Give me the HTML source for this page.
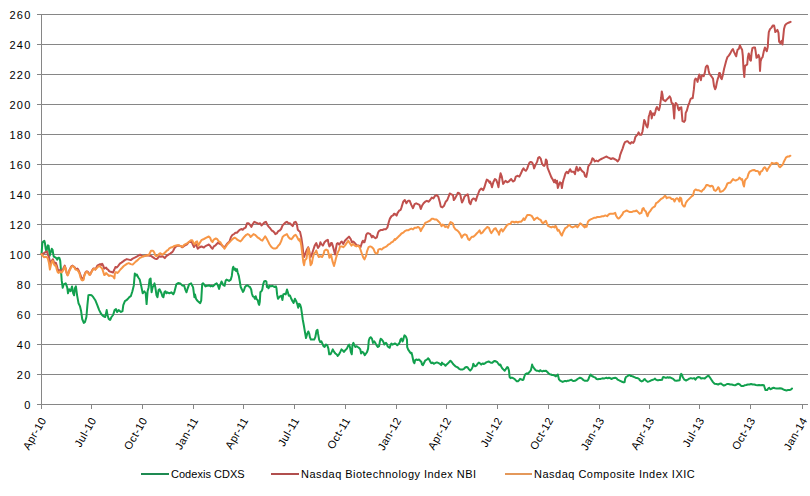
<!DOCTYPE html>
<html><head><meta charset="utf-8"><style>
html,body{margin:0;padding:0;background:#fff;}
body{width:810px;height:496px;position:relative;overflow:hidden;font-family:"Liberation Sans",sans-serif;color:#000;}
svg{position:absolute;left:0;top:0;}
.yl{position:absolute;right:778.3px;width:40px;text-align:right;font-size:11px;line-height:14px;letter-spacing:1.3px;}
.xl{position:absolute;top:414.5px;font-size:11px;line-height:12px;letter-spacing:0.4px;white-space:nowrap;transform-origin:100% 0;transform:translate(-100%,0) rotate(-60deg);}
.lg{position:absolute;top:467px;font-size:11px;line-height:14px;white-space:nowrap;letter-spacing:0.3px;}
.lgl{position:absolute;top:473px;height:2px;width:27px;}
</style></head><body>
<svg width="810" height="496" viewBox="0 0 810 496">
<g stroke="#868686" stroke-width="1" shape-rendering="crispEdges"><line x1="37" y1="14.5" x2="808" y2="14.5"/><line x1="37" y1="44.5" x2="808" y2="44.5"/><line x1="37" y1="74.5" x2="808" y2="74.5"/><line x1="37" y1="104.5" x2="808" y2="104.5"/><line x1="37" y1="134.5" x2="808" y2="134.5"/><line x1="37" y1="164.5" x2="808" y2="164.5"/><line x1="37" y1="194.5" x2="808" y2="194.5"/><line x1="37" y1="224.5" x2="808" y2="224.5"/><line x1="37" y1="254.5" x2="808" y2="254.5"/><line x1="37" y1="284.5" x2="808" y2="284.5"/><line x1="37" y1="314.5" x2="808" y2="314.5"/><line x1="37" y1="344.5" x2="808" y2="344.5"/><line x1="37" y1="374.5" x2="808" y2="374.5"/><line x1="37" y1="404.5" x2="808" y2="404.5"/>
<line x1="37" y1="404.5" x2="808" y2="404.5"/>
<line x1="41.5" y1="14" x2="41.5" y2="405"/>
<line x1="41.5" y1="404" x2="41.5" y2="408.5"/><line x1="91.5" y1="404" x2="91.5" y2="408.5"/><line x1="142.5" y1="404" x2="142.5" y2="408.5"/><line x1="193.5" y1="404" x2="193.5" y2="408.5"/><line x1="243.5" y1="404" x2="243.5" y2="408.5"/><line x1="294.5" y1="404" x2="294.5" y2="408.5"/><line x1="345.5" y1="404" x2="345.5" y2="408.5"/><line x1="396.5" y1="404" x2="396.5" y2="408.5"/><line x1="446.5" y1="404" x2="446.5" y2="408.5"/><line x1="497.5" y1="404" x2="497.5" y2="408.5"/><line x1="548.5" y1="404" x2="548.5" y2="408.5"/><line x1="599.5" y1="404" x2="599.5" y2="408.5"/><line x1="649.5" y1="404" x2="649.5" y2="408.5"/><line x1="699.5" y1="404" x2="699.5" y2="408.5"/><line x1="750.5" y1="404" x2="750.5" y2="408.5"/><line x1="802.5" y1="404" x2="802.5" y2="408.5"/></g>
<g fill="none" stroke-width="2" stroke-linejoin="round" stroke-linecap="round">
<polyline stroke="#12a04e" points="41.5,254.3 42.0,247.9 42.4,242.9 43.4,241.4 44.4,240.9 44.9,242.9 45.7,248.8 46.4,251.8 47.4,246.9 47.9,245.4 48.6,245.9 49.1,249.8 49.7,255.8 50.3,253.3 51.0,251.8 51.8,248.8 52.6,249.8 53.3,254.3 53.8,256.7 54.8,257.2 55.8,257.7 56.8,258.7 57.3,259.7 57.8,258.2 58.7,257.7 59.5,258.2 60.2,260.7 60.7,266.6 61.2,273.5 61.7,280.4 62.7,287.8 63.7,284.4 65.7,283.4 67.2,287.4 68.0,293.3 69.2,289.3 70.6,291.3 72.0,286.4 73.2,293.3 74.1,295.3 74.9,288.3 75.9,286.4 77.1,295.3 78.5,303.2 79.9,306.1 81.1,311.1 82.2,319.0 83.8,322.9 85.0,321.9 86.4,317.0 87.4,305.1 88.4,295.3 89.8,294.9 91.7,295.3 93.3,297.2 95.3,300.2 97.3,305.1 99.2,310.1 101.2,314.0 103.2,316.0 105.2,317.0 106.7,310.1 107.5,315.0 108.7,319.0 110.1,320.0 111.5,317.0 113.1,315.0 114.6,310.1 116.0,309.1 117.0,312.0 118.6,310.1 121.0,312.0 122.5,311.1 123.3,305.1 124.9,301.2 126.5,300.2 127.9,298.8 129.3,297.2 130.8,296.2 132.4,291.3 133.8,285.4 134.8,273.5 135.8,275.5 136.8,274.5 138.3,277.5 139.7,279.5 141.1,285.4 142.7,293.3 144.3,291.3 145.7,293.3 146.6,304.1 147.6,291.3 148.6,287.4 149.6,279.5 150.6,278.5 151.6,292.3 152.6,287.4 153.6,285.4 154.5,283.4 155.5,288.3 156.5,295.3 157.5,297.2 158.5,290.3 159.5,289.3 160.5,291.3 161.5,293.3 162.4,296.2 163.4,297.2 164.4,292.3 165.4,291.3 166.4,293.3 167.4,292.3 169.4,293.3 171.3,292.3 173.3,294.3 174.3,292.3 176.3,284.4 178.2,283.0 180.2,283.4 182.2,285.4 184.2,285.8 185.2,289.3 186.5,292.3 187.7,288.3 189.1,284.4 191.1,283.4 193.1,287.4 194.4,297.2 195.0,294.4 196.0,298.8 197.2,300.6 198.7,301.9 200.2,303.1 201.2,300.6 201.8,290.7 202.2,284.0 203.0,283.3 204.3,284.6 205.5,286.4 206.7,285.8 208.0,285.8 209.2,285.2 210.4,286.4 211.7,285.8 212.9,286.4 214.1,285.2 215.4,284.0 216.6,283.3 217.8,285.2 219.1,288.9 220.3,284.6 221.5,281.5 222.4,283.3 223.4,285.2 224.6,285.8 225.6,280.9 226.5,279.6 227.7,280.2 229.0,280.9 230.8,279.6 231.8,275.9 232.7,268.5 233.3,266.7 234.3,269.8 235.1,268.5 236.0,271.0 237.0,269.1 237.6,272.2 238.8,275.9 239.7,280.9 240.7,287.0 241.9,289.5 242.9,292.0 243.8,290.7 245.0,287.0 246.2,285.8 247.5,285.2 248.7,286.4 249.9,287.0 251.2,289.5 251.8,293.2 252.8,296.3 254.0,296.9 254.9,298.8 255.7,296.3 256.7,299.4 257.7,300.0 258.6,303.7 259.2,304.9 259.8,301.9 260.4,292.0 261.4,291.4 262.3,289.5 263.1,284.6 264.1,281.5 265.4,280.9 266.4,281.5 266.9,287.0 267.6,285.8 268.5,288.3 269.7,285.8 270.9,286.4 272.2,285.8 273.4,286.4 274.6,287.0 275.9,286.4 276.5,288.3 277.1,294.4 278.0,298.8 279.0,297.5 280.2,296.3 281.4,295.7 282.4,300.0 283.3,294.4 284.5,293.8 285.7,294.4 287.0,289.5 287.8,292.0 288.8,295.7 290.0,295.5 291.3,298.8 292.5,301.2 293.6,302.9 294.9,298.8 296.2,301.2 297.4,304.5 298.2,307.8 299.0,303.7 300.1,304.5 301.1,307.8 301.8,312.7 302.7,319.2 303.9,325.8 305.0,332.3 306.0,338.0 307.2,333.9 308.3,331.5 309.3,333.9 309.9,337.2 310.9,339.6 312.5,339.6 314.2,339.6 315.3,337.2 316.5,330.7 317.5,329.8 318.1,333.9 319.1,339.6 320.2,342.1 321.4,341.3 322.4,343.7 323.5,346.2 324.6,347.0 325.9,344.5 327.3,345.4 328.4,348.6 329.2,354.3 330.5,354.3 331.7,351.9 332.8,349.4 334.1,351.9 335.4,353.5 336.6,354.3 337.7,356.0 339.0,354.3 340.3,351.9 341.5,349.4 342.6,350.3 343.9,351.9 345.2,350.3 346.9,348.6 348.0,346.2 349.2,344.5 350.1,347.8 350.8,351.9 351.8,354.3 352.4,345.4 353.4,342.9 354.5,345.4 355.4,347.0 356.7,346.2 357.8,347.0 359.0,347.8 360.3,349.4 361.1,353.5 362.2,351.9 363.5,352.7 364.8,355.2 366.0,353.5 367.1,351.9 368.1,348.6 368.8,340.5 369.7,338.0 370.9,337.2 372.0,338.8 373.0,342.9 374.2,341.3 375.3,342.9 376.6,345.4 377.9,347.0 379.1,346.2 379.9,341.3 380.7,338.8 381.8,339.6 383.1,341.3 384.4,344.5 385.0,343.5 386.0,342.8 386.9,344.1 387.7,346.5 388.7,347.2 389.7,347.8 390.6,344.7 391.4,343.5 392.4,344.7 393.6,344.1 394.9,343.5 396.1,344.1 397.3,345.3 398.6,344.1 399.8,342.2 400.4,339.8 401.3,338.5 402.0,339.8 402.5,341.6 403.3,339.8 403.8,337.3 404.5,335.4 405.4,336.0 406.2,337.3 407.0,339.8 407.2,347.2 408.2,349.6 409.1,350.9 409.9,352.1 410.7,353.3 411.5,352.7 412.2,355.2 412.8,358.3 413.6,362.0 414.4,363.2 415.2,360.1 416.5,359.5 417.7,360.1 419.0,359.5 420.2,360.7 421.4,362.0 422.0,364.4 423.0,365.1 423.9,363.2 425.1,360.7 427.0,359.5 428.2,358.3 429.2,359.5 430.1,361.4 431.3,363.2 432.5,362.6 433.8,363.8 435.0,363.2 436.2,362.6 437.5,362.6 438.7,363.2 439.9,363.8 441.2,365.1 442.0,362.6 443.0,363.8 444.3,364.4 445.5,365.7 446.7,364.4 448.0,363.2 449.2,362.0 450.4,360.7 451.7,362.0 452.9,363.8 454.1,365.1 455.4,366.3 456.6,366.9 457.8,367.5 459.1,368.8 460.3,369.4 461.5,369.4 462.8,369.4 464.0,368.8 465.2,367.5 466.5,366.9 467.7,367.5 469.0,369.4 470.2,370.6 471.4,369.4 472.7,366.9 473.3,363.8 474.1,365.1 475.1,366.3 476.4,365.7 477.6,363.8 478.8,362.6 480.0,363.4 481.2,364.6 482.5,363.4 483.7,364.0 484.9,363.4 486.2,362.4 487.4,361.9 488.6,361.5 489.9,362.2 491.1,362.8 492.3,362.8 493.6,361.5 494.8,360.9 496.0,361.5 497.3,362.2 498.5,364.0 499.5,365.2 500.4,364.6 501.2,366.5 502.2,368.3 503.5,369.6 504.7,370.8 505.9,369.0 507.2,367.1 508.1,367.7 509.0,370.8 509.6,377.0 510.6,378.2 511.9,377.6 513.1,378.2 514.3,378.8 515.6,380.1 516.8,381.3 518.0,381.3 519.3,380.1 520.1,378.8 521.4,379.4 522.6,380.1 523.5,379.4 524.2,377.0 525.1,374.5 525.9,373.9 526.9,373.3 527.9,373.9 528.8,372.7 530.0,371.4 530.9,370.2 531.6,367.1 532.1,364.6 532.8,366.5 533.7,367.7 534.6,369.0 535.6,370.2 536.8,370.8 538.0,370.8 539.3,371.4 540.2,370.2 541.1,370.8 542.3,371.4 543.6,370.8 544.8,371.0 546.0,370.8 547.3,372.0 548.5,373.3 549.8,374.3 551.0,374.5 552.2,375.1 553.5,375.1 554.7,375.7 555.9,376.4 557.2,375.1 557.8,374.5 558.4,377.0 559.0,379.4 560.2,380.7 561.5,381.3 562.7,381.9 564.0,381.3 565.2,380.9 566.4,381.3 567.7,380.7 568.9,380.7 570.1,380.1 571.4,379.7 572.6,380.7 573.8,380.9 575.0,380.8 576.2,380.2 577.5,379.0 578.7,378.3 579.9,377.7 581.2,378.1 582.4,379.0 583.6,380.2 584.9,380.8 586.1,380.8 587.3,380.8 588.3,379.6 589.2,377.1 590.1,375.2 590.8,374.6 591.7,375.9 592.9,376.5 594.1,377.1 595.4,377.7 596.6,379.0 597.8,379.3 599.1,379.0 600.3,379.0 601.5,378.6 602.8,378.3 604.0,378.6 605.2,378.1 606.5,377.7 607.7,378.3 609.0,377.7 610.2,378.1 611.4,379.0 612.7,378.3 613.9,378.1 615.1,377.7 616.4,378.1 617.6,379.6 618.8,380.2 620.1,380.8 621.3,381.4 622.5,382.0 623.8,382.4 624.6,382.0 625.1,379.0 625.9,377.1 626.9,376.5 627.8,375.9 628.7,375.2 629.6,374.9 630.6,375.9 631.8,376.1 633.0,376.5 634.3,377.1 635.5,377.7 636.7,378.1 638.0,378.3 639.2,379.0 639.8,380.2 640.7,380.8 641.7,381.4 642.9,380.8 643.9,379.6 644.8,379.0 645.6,380.2 646.6,381.0 647.8,381.8 649.1,381.4 650.3,380.8 651.5,380.2 652.8,379.8 654.0,379.3 655.0,378.6 655.9,379.6 657.1,380.2 658.3,380.2 659.6,379.9 660.8,379.9 662.0,379.8 662.9,377.3 663.9,377.1 665.1,377.7 666.4,377.7 667.6,377.3 668.8,377.7 670.0,377.3 671.6,378.1 673.2,378.9 674.8,380.5 676.4,380.8 678.0,380.5 679.6,380.2 680.4,375.7 681.2,373.8 682.0,374.9 682.8,377.3 684.4,379.7 686.1,380.5 687.7,379.7 689.3,378.6 690.9,378.1 692.5,378.6 694.1,378.1 695.4,379.7 696.5,378.1 698.1,377.0 699.7,377.3 701.3,378.6 702.9,378.1 704.5,378.6 706.1,377.3 707.7,376.0 708.5,375.7 709.8,377.3 711.4,379.7 713.0,382.1 714.6,383.7 716.5,384.0 718.2,384.5 719.8,383.7 721.0,383.4 722.2,384.5 723.8,385.6 725.4,385.0 727.0,384.0 728.6,384.0 730.2,384.5 731.8,384.5 733.4,385.0 735.0,385.3 736.6,384.5 738.2,383.7 739.8,384.5 741.4,386.1 743.0,386.1 744.6,385.3 746.2,385.0 747.8,384.5 749.5,384.5 751.1,384.0 752.7,384.5 754.3,384.5 755.9,385.0 757.5,385.3 759.1,385.0 760.7,385.3 762.3,385.0 763.9,385.3 764.7,387.7 765.5,390.1 767.1,390.1 768.2,388.5 769.2,387.7 770.3,389.3 771.9,388.5 773.5,387.7 775.1,388.2 776.7,388.5 778.3,388.5 780.0,388.2 781.6,388.5 783.2,389.3 784.8,390.1 786.4,390.4 788.0,390.1 789.6,390.1 791.2,389.3 792.0,388.5"/>
<polyline stroke="#c0504d" points="41.5,254.3 42.9,253.8 44.4,252.8 45.9,251.8 46.9,251.3 47.9,254.8 48.9,256.7 49.9,261.7 50.8,263.7 51.8,260.7 52.8,259.2 53.8,261.7 54.8,263.2 55.8,262.7 56.8,265.6 57.8,269.6 58.7,271.1 59.7,270.1 61.7,270.6 62.7,270.1 63.7,267.6 64.7,265.6 65.7,268.6 66.6,273.0 67.6,275.0 68.6,272.5 69.6,269.6 70.6,267.6 71.6,266.1 72.6,265.6 73.6,266.6 74.5,267.1 75.5,268.6 76.5,269.1 77.5,268.6 78.5,270.1 79.5,272.5 80.5,275.0 81.5,277.5 82.4,279.5 83.4,279.0 84.4,275.0 85.4,272.5 86.4,271.6 87.4,271.6 88.4,272.5 89.4,274.0 90.3,274.5 91.3,272.0 92.3,270.1 93.3,268.6 94.3,268.6 95.3,269.6 96.3,267.6 97.3,265.6 98.2,265.1 99.2,264.6 100.2,264.1 101.2,265.1 102.2,263.7 103.2,265.6 104.2,268.6 105.2,268.1 106.1,267.6 107.1,269.1 108.1,269.6 109.1,271.1 110.0,271.5 111.5,272.0 113.0,272.5 114.4,269.5 115.4,267.0 116.9,267.5 118.4,265.6 119.9,263.6 121.4,262.6 122.8,261.6 124.8,260.1 126.8,259.1 128.8,259.6 130.7,260.1 132.7,258.6 134.7,257.7 136.7,256.7 138.6,255.5 140.1,254.7 141.6,255.7 143.6,256.2 145.6,255.5 147.5,255.2 149.5,255.7 150.5,255.7 152.0,256.7 153.5,257.7 154.9,258.6 156.4,259.1 157.4,258.6 158.4,257.2 159.4,256.2 160.9,256.7 162.3,256.2 163.8,257.2 164.8,258.1 166.3,256.2 167.8,255.2 169.3,254.2 170.7,253.2 172.2,252.2 173.2,250.7 174.2,248.8 175.2,247.3 177.2,245.8 179.1,245.6 181.1,246.3 182.1,247.3 183.1,246.8 185.1,245.3 187.0,244.3 189.0,241.9 190.3,242.0 191.5,241.4 192.8,244.5 194.0,247.0 195.2,245.1 196.5,244.5 197.1,247.0 197.7,248.8 199.0,247.6 200.2,247.0 201.4,246.4 202.7,247.0 203.9,247.6 205.1,246.4 206.4,245.7 207.6,245.1 208.8,244.5 210.1,245.7 211.3,247.6 212.5,248.8 213.8,246.4 215.1,245.7 216.5,244.3 218.0,242.8 219.4,243.5 220.9,244.3 222.3,245.7 223.8,247.2 225.2,246.5 226.7,244.3 228.1,242.8 229.6,241.4 231.0,237.0 232.5,234.8 234.0,234.1 235.4,232.7 236.9,232.7 238.3,231.2 239.8,229.8 241.2,229.0 242.7,229.8 244.1,228.3 245.6,227.6 247.0,223.2 248.5,223.2 249.9,224.7 251.4,226.9 252.8,224.0 254.3,221.8 255.7,222.5 257.2,223.2 258.6,224.0 260.1,223.2 261.5,225.4 263.0,224.0 264.4,222.5 265.9,221.8 267.3,224.7 268.8,226.9 270.2,228.3 271.7,230.5 273.1,231.2 274.6,232.7 275.3,234.1 276.8,233.4 278.2,231.2 279.7,230.5 281.1,229.0 282.6,225.4 284.0,224.0 285.5,222.5 286.9,221.8 288.4,223.2 289.8,223.2 291.3,224.7 292.7,226.1 294.2,222.5 295.6,221.8 296.8,224.0 297.8,229.8 299.3,231.2 300.0,231.7 301.3,237.4 302.5,245.6 303.3,253.7 304.1,257.0 304.9,254.5 306.5,250.5 308.2,247.2 309.0,249.6 309.8,254.5 310.6,257.0 311.8,254.5 313.1,250.5 314.7,245.6 316.3,243.1 317.2,245.6 318.0,248.0 319.6,245.6 320.4,242.3 321.2,243.9 322.9,245.6 324.5,242.3 326.1,240.7 327.8,239.8 328.6,243.9 329.4,246.4 330.2,245.6 331.0,243.1 331.9,243.1 332.7,245.6 334.0,250.5 335.1,254.5 335.9,248.8 336.8,243.9 337.9,243.1 339.2,244.7 340.8,242.3 341.7,241.5 343.3,243.9 344.9,240.7 346.6,239.0 348.2,237.4 349.0,236.6 350.7,239.0 352.0,242.3 353.1,241.5 354.2,242.3 355.6,243.9 357.2,245.6 358.8,245.6 360.5,247.2 361.3,244.7 362.1,242.3 362.9,240.7 363.7,242.3 364.5,242.3 365.4,239.0 366.2,234.9 367.3,233.3 368.6,233.3 370.3,234.1 371.9,237.4 372.7,235.8 374.3,237.4 375.5,238.2 376.8,237.4 378.1,232.5 379.2,230.8 380.9,230.0 382.5,230.0 384.2,229.2 385.8,229.2 386.6,228.4 387.4,227.6 388.2,224.3 389.1,221.0 389.9,218.6 391.5,216.1 393.1,215.3 394.0,213.7 394.8,214.5 395.0,213.9 396.6,215.6 397.5,213.1 399.1,210.7 400.7,209.8 401.5,207.4 403.2,201.7 404.8,200.0 406.4,203.3 408.1,200.8 409.7,200.8 411.3,204.9 413.0,208.2 414.6,204.1 416.2,203.3 417.9,204.1 419.5,204.9 420.8,209.0 422.0,205.8 423.6,203.3 425.2,201.7 426.9,200.8 428.5,201.7 430.1,200.0 431.8,197.6 433.4,198.4 435.0,195.9 436.7,195.1 438.3,196.8 439.9,202.5 440.8,206.6 442.4,207.4 444.0,205.8 445.7,201.7 447.3,200.0 448.9,195.9 449.7,193.5 451.4,194.3 453.0,195.1 453.8,200.0 455.1,198.4 456.8,195.1 457.9,192.7 459.5,193.5 460.4,195.1 461.2,199.2 462.0,202.5 463.3,200.0 464.4,196.8 466.1,195.1 467.7,194.3 468.5,197.6 469.3,202.5 470.5,204.1 471.8,200.0 473.4,198.4 475.1,199.2 475.9,200.8 477.0,196.8 478.3,193.5 479.6,190.2 481.3,188.6 483.2,190.2 484.5,187.0 485.7,182.9 486.8,179.6 488.1,180.4 489.8,182.9 490.0,181.5 491.3,184.7 492.0,187.2 493.3,182.3 494.9,179.0 496.2,179.8 497.4,183.1 498.5,187.2 499.5,179.0 500.6,173.3 501.8,176.6 503.1,183.9 504.4,182.3 505.5,180.7 507.2,182.3 508.8,181.5 510.4,179.8 511.2,179.0 512.9,181.5 514.5,180.7 515.8,176.6 517.8,175.8 519.4,176.6 521.0,173.3 522.4,170.0 523.5,168.4 524.6,170.0 525.9,170.8 527.3,168.4 528.4,165.1 529.5,162.7 530.8,161.9 532.2,162.7 533.3,165.1 534.1,168.4 535.4,165.1 537.1,161.9 538.2,157.8 539.3,157.0 540.7,158.6 542.0,163.5 543.1,165.1 544.2,165.9 545.2,164.3 545.9,159.4 546.9,161.0 547.5,167.6 548.8,170.8 550.1,174.1 551.4,177.4 552.9,179.8 554.1,182.3 555.0,179.8 556.2,183.1 557.0,180.7 557.8,188.0 558.6,185.6 559.9,182.3 561.1,183.1 561.9,188.0 562.7,183.1 563.5,179.8 564.3,177.4 565.5,173.3 566.8,171.7 568.1,173.3 569.2,170.8 570.1,169.2 571.4,171.7 572.5,171.7 573.7,171.7 575.0,174.1 575.8,169.2 576.6,166.8 577.9,170.8 579.1,170.0 579.9,167.6 581.2,170.0 582.8,171.7 584.0,172.5 585.0,176.1 586.3,177.0 587.5,171.2 588.3,166.3 589.6,164.7 591.2,162.3 592.4,158.2 593.5,159.0 594.8,161.4 596.4,160.6 598.1,161.4 599.7,159.8 601.3,159.0 603.0,158.2 604.6,157.4 606.2,156.5 607.9,157.4 609.5,158.2 611.1,159.0 612.8,158.2 614.4,159.0 616.0,159.8 617.7,161.4 619.3,159.0 620.1,155.2 621.3,151.9 622.6,148.6 623.9,144.5 625.0,142.1 626.7,141.3 627.8,141.3 629.1,142.9 630.4,143.7 631.6,142.1 633.2,142.9 634.3,141.3 635.3,137.2 636.5,135.6 637.6,134.7 638.6,132.3 639.7,134.7 641.4,134.7 642.5,131.5 643.5,124.9 644.2,120.0 645.1,121.7 646.3,125.8 647.4,127.4 648.1,124.1 648.7,116.8 649.5,114.3 650.4,111.0 651.2,112.7 651.7,118.4 652.8,113.5 653.6,113.5 654.4,115.1 655.3,111.9 656.1,108.6 656.9,107.0 657.7,108.6 658.9,110.2 659.8,107.0 660.5,102.1 661.1,98.0 661.8,91.4 662.5,94.7 663.1,99.6 664.2,100.4 665.4,101.2 666.7,99.6 668.3,98.0 669.6,96.3 670.6,98.0 671.6,102.9 672.9,103.7 673.6,111.0 674.2,118.4 674.9,106.1 675.7,102.9 676.5,103.7 677.5,105.3 678.1,108.6 679.0,110.2 679.8,107.8 680.0,108.8 681.3,107.2 682.0,115.4 682.5,121.1 684.1,121.9 685.2,120.3 685.7,112.9 686.9,110.5 688.2,105.6 689.5,102.3 690.6,99.0 691.8,98.2 692.7,98.2 693.9,89.2 694.7,80.2 695.5,78.6 696.7,79.4 697.6,81.9 698.3,77.8 699.3,74.5 699.9,77.0 700.9,80.2 701.6,76.1 702.5,75.3 703.7,76.1 704.8,72.9 705.8,67.2 707.0,65.5 707.8,66.3 708.6,70.4 709.4,73.7 710.7,75.3 711.9,77.0 713.0,78.6 714.0,85.9 715.1,89.2 715.9,87.6 716.8,82.7 717.6,79.4 718.4,77.0 719.2,72.9 720.0,73.2 720.7,77.6 721.8,79.1 722.9,74.7 724.1,68.8 725.1,65.1 726.2,60.7 727.4,57.1 728.8,55.6 730.3,53.4 731.8,50.4 732.9,49.0 734.0,51.9 735.4,54.9 736.2,56.3 736.9,52.6 737.6,49.7 738.8,49.0 739.9,45.3 740.9,47.5 742.1,49.7 742.8,55.6 743.5,68.8 744.3,76.9 745.0,65.9 746.2,65.1 747.2,64.4 747.9,57.1 748.7,53.4 749.4,55.6 750.1,60.0 750.9,60.7 751.6,52.6 752.4,48.2 753.5,47.5 755.0,47.5 755.6,51.2 756.5,57.8 757.5,57.1 758.5,54.9 759.4,57.1 760.0,71.0 760.6,61.5 761.5,58.5 762.6,57.1 763.8,51.2 764.9,47.5 765.9,49.7 766.8,51.2 767.8,46.8 768.2,39.4 768.8,32.1 770.0,29.1 771.5,27.6 772.9,25.4 774.1,25.4 774.7,28.4 775.3,32.1 776.2,31.3 777.4,29.9 778.5,32.8 779.1,41.6 780.3,43.1 781.5,40.9 782.5,44.6 782.9,40.1 784.0,29.1 785.0,25.4 786.2,24.0 787.6,23.2 789.1,22.5 790.6,21.8"/>
<polyline stroke="#f79646" points="41.5,254.3 42.9,255.8 43.9,257.2 45.9,256.7 46.9,257.2 47.9,258.7 48.9,262.7 49.9,269.6 50.8,265.6 51.8,261.7 52.8,260.7 53.8,263.7 54.8,265.6 55.8,265.6 56.8,269.6 57.8,272.5 58.7,273.0 59.7,271.6 60.7,272.0 61.7,272.5 63.7,269.6 64.7,266.6 65.7,268.6 66.6,272.5 67.6,275.5 68.6,273.5 69.6,270.1 70.6,268.6 71.6,266.6 72.6,266.1 73.6,266.6 74.5,267.6 75.5,269.6 77.5,270.1 78.5,271.6 79.5,273.5 80.5,277.5 81.5,280.0 82.4,280.4 83.4,280.0 84.4,275.5 85.4,273.5 86.4,271.6 87.4,272.0 88.4,273.5 89.4,275.0 90.3,274.0 91.3,272.5 92.3,270.6 93.3,269.1 94.3,268.6 95.3,269.6 96.3,268.6 97.3,267.6 98.2,266.6 99.2,266.1 100.2,266.6 101.2,267.6 102.2,268.6 103.2,271.6 104.2,275.0 105.2,274.5 106.1,273.0 107.1,274.0 108.1,275.0 109.1,276.0 110.0,275.4 111.5,275.9 113.0,276.4 114.4,278.4 114.9,273.5 115.9,272.0 117.4,273.0 118.9,271.5 120.4,269.5 121.9,268.0 123.8,266.0 125.8,264.6 127.3,263.6 128.8,263.1 130.7,264.1 132.7,264.6 134.2,263.1 135.7,261.6 137.7,260.1 139.6,258.1 141.6,257.2 143.6,256.2 145.6,255.7 147.5,255.2 149.0,254.7 150.0,252.7 151.0,250.7 152.5,250.7 153.5,251.2 154.4,252.7 155.4,255.7 156.4,256.2 157.4,255.7 158.4,254.7 159.4,253.7 160.4,253.2 161.4,254.2 162.3,254.7 163.8,253.7 165.3,252.2 166.8,250.7 168.3,249.8 169.3,248.3 170.7,247.6 172.2,247.3 173.7,246.3 175.2,245.8 177.2,245.3 179.1,245.3 181.1,246.3 182.6,246.8 184.1,244.8 186.0,243.8 188.0,242.8 190.9,240.2 192.2,240.2 193.4,242.7 194.6,244.5 195.9,242.0 197.1,241.4 198.3,245.7 199.6,243.3 201.4,240.2 203.9,239.0 206.4,237.7 208.8,236.5 210.1,237.7 211.3,240.8 212.5,242.0 213.8,239.6 215.8,238.5 217.3,239.2 218.7,241.4 220.2,242.1 221.6,244.3 223.1,246.5 224.5,248.6 226.0,246.5 227.4,244.3 228.9,242.8 230.3,241.4 231.8,239.9 233.2,238.5 234.7,237.7 236.1,238.5 237.6,239.9 239.0,240.6 240.5,241.4 241.9,239.9 243.4,237.7 244.8,236.3 246.3,234.8 247.7,234.1 249.2,234.8 250.6,237.0 252.1,235.6 253.5,234.1 255.0,234.8 256.5,236.3 257.9,237.7 259.4,238.5 260.8,239.9 262.3,240.6 263.7,238.5 265.2,236.3 266.6,238.5 268.1,241.4 269.5,244.3 271.0,246.5 272.4,247.9 273.9,248.6 275.3,248.6 276.8,247.9 278.2,245.7 279.7,244.3 281.1,241.4 282.6,237.0 284.0,235.6 285.5,234.8 286.9,234.1 288.4,237.0 289.8,238.5 291.3,239.2 292.7,237.7 294.2,235.6 295.6,234.8 297.1,237.0 298.5,239.9 300.0,241.4 300.0,239.0 301.3,245.6 302.5,255.4 303.3,261.9 304.1,265.2 304.9,260.3 306.5,258.6 307.4,252.1 308.2,248.0 309.0,250.5 309.8,258.6 310.6,265.2 311.8,263.5 312.7,258.6 313.9,253.7 315.5,252.1 316.3,250.5 317.6,254.5 318.8,257.0 320.4,256.2 322.1,257.0 323.7,253.7 324.5,250.5 326.1,249.6 327.8,250.5 328.6,253.7 329.4,257.8 330.2,256.2 331.0,254.5 331.9,258.6 332.7,261.9 334.0,266.0 335.1,261.9 335.9,258.6 336.8,255.4 337.6,252.9 339.2,249.6 340.0,246.4 341.7,246.4 343.3,247.2 344.9,245.6 346.6,243.1 348.2,240.7 349.8,243.1 351.5,245.6 353.1,243.9 354.7,245.6 356.4,246.4 358.0,245.6 359.6,247.2 360.8,250.5 362.1,254.5 363.4,257.8 364.5,259.4 366.2,255.4 367.0,251.3 368.6,247.2 370.3,246.4 371.9,247.2 373.5,248.8 374.8,252.1 376.0,253.7 377.6,252.9 378.4,249.6 380.1,248.8 381.7,249.6 383.3,248.0 385.0,247.2 386.6,246.4 388.2,244.7 389.9,243.9 391.5,242.3 393.1,241.5 394.8,239.0 395.0,240.1 396.6,238.4 398.3,236.8 399.9,235.2 401.5,233.5 403.2,232.7 404.8,231.1 406.4,230.3 408.1,230.3 409.7,229.4 411.3,228.6 413.0,229.4 414.6,227.8 416.2,227.8 417.9,227.0 419.5,227.8 420.8,231.1 422.0,228.6 423.6,226.2 425.2,222.9 426.9,222.1 428.5,221.3 430.1,220.5 431.8,218.8 433.4,218.8 435.0,219.6 436.7,219.6 438.3,221.3 439.9,222.9 441.6,226.2 442.7,224.5 444.0,225.4 445.3,227.0 446.5,226.2 448.1,227.8 449.2,224.5 450.6,222.1 452.2,222.9 453.0,223.7 453.8,227.0 455.5,229.4 457.1,230.3 458.7,231.9 460.4,234.3 461.7,237.6 463.3,235.2 464.9,234.3 466.6,235.2 468.2,239.2 469.3,240.1 470.5,238.4 471.8,236.8 473.4,236.8 475.1,235.2 476.7,233.5 478.3,231.9 479.6,230.3 480.8,233.5 482.4,232.7 484.1,230.3 485.7,228.6 487.3,227.0 489.0,227.8 490.0,230.7 491.3,233.1 492.5,231.5 494.1,229.0 495.7,228.2 496.9,230.7 498.2,232.3 499.0,234.7 500.1,230.7 501.4,229.0 502.7,231.5 503.9,229.8 505.5,227.4 507.2,224.9 508.8,224.1 510.4,224.1 511.6,221.7 512.9,221.7 514.5,222.5 516.1,221.7 517.8,222.5 519.4,221.7 521.0,221.7 522.7,220.0 523.5,218.4 524.6,220.0 525.9,217.6 527.3,215.1 528.4,215.1 530.0,215.1 531.7,215.9 532.8,217.6 534.1,220.0 535.8,218.4 537.4,217.6 539.0,219.2 540.7,220.0 542.0,222.5 543.1,223.3 544.7,221.7 545.9,220.8 546.9,223.3 548.0,225.8 549.6,226.6 551.3,227.4 552.9,226.6 554.5,227.4 555.4,225.8 556.2,226.6 557.0,229.0 557.8,230.7 558.6,229.8 559.9,232.3 561.1,234.7 561.9,235.6 562.7,233.1 563.9,230.7 565.2,228.2 566.8,227.4 568.1,225.8 569.2,224.9 570.9,226.6 572.5,227.4 574.2,226.6 575.8,225.8 577.4,227.4 579.1,224.9 580.2,223.3 581.5,224.1 583.1,225.8 584.8,227.4 585.0,226.0 586.6,226.8 587.9,221.9 589.1,220.3 590.7,219.4 592.4,218.6 594.0,217.8 595.6,217.8 597.3,217.0 598.9,217.0 600.5,216.7 602.2,216.2 603.8,216.2 605.4,215.4 607.1,216.2 608.7,214.5 610.3,213.7 612.0,213.7 613.6,213.7 615.2,212.9 616.0,215.4 617.4,217.8 618.5,218.6 619.6,217.8 620.9,216.2 622.3,214.5 623.4,212.1 625.0,211.3 626.7,210.5 628.3,211.3 629.9,212.1 631.6,212.1 633.2,211.3 634.8,211.3 636.5,210.5 638.1,212.1 639.7,213.7 641.4,212.9 642.5,208.8 643.5,208.0 644.6,210.5 645.8,211.3 646.8,214.5 647.6,216.2 648.7,212.9 650.0,211.3 651.2,209.6 652.3,208.0 653.6,207.2 654.9,206.4 656.1,203.1 657.7,202.3 659.3,200.7 661.0,199.0 662.6,198.2 664.2,196.6 665.1,195.8 665.9,196.6 666.7,198.2 668.3,197.4 670.0,197.4 671.6,199.0 673.2,199.0 674.5,201.5 675.7,199.0 676.8,198.2 678.1,199.0 679.4,201.5 680.0,197.6 681.2,198.3 682.2,204.3 683.7,206.5 684.7,206.5 685.9,202.8 687.4,200.6 688.9,199.1 690.4,197.6 691.9,196.1 693.0,195.4 694.1,190.9 695.6,189.4 697.0,190.2 698.5,190.2 700.0,190.9 701.5,191.7 702.5,190.2 703.7,189.4 705.2,187.2 706.4,185.0 707.4,185.0 708.9,185.7 710.4,186.5 711.9,185.7 712.9,186.5 714.1,190.2 715.6,190.9 717.0,189.4 718.2,187.2 719.3,188.7 720.0,191.7 721.2,191.7 723.0,190.9 724.4,189.4 725.9,187.2 727.4,183.5 728.9,182.8 730.4,182.8 731.9,180.6 733.0,179.1 734.1,179.8 735.6,180.6 737.0,179.8 738.5,179.1 739.3,177.6 740.4,178.3 741.5,179.8 742.2,179.1 743.4,185.0 744.0,186.5 744.9,180.6 745.9,179.1 747.4,177.6 748.4,173.9 749.6,171.7 751.1,170.9 752.6,170.2 754.1,169.9 755.6,170.9 757.0,170.9 758.5,171.7 759.7,174.6 760.7,171.7 762.2,170.9 763.7,168.0 764.7,167.2 765.9,168.7 767.1,170.9 768.1,168.7 769.6,166.5 771.1,164.3 771.9,162.8 773.3,163.5 774.8,163.5 776.3,162.8 777.8,163.5 779.0,166.5 780.0,167.2 781.5,165.7 783.0,164.3 783.7,162.0 784.9,159.8 785.9,157.6 787.4,156.6 788.9,156.6 790.4,155.7"/>
</g>
</svg>
<div class="yl" style="top:7.5px">260</div><div class="yl" style="top:37.5px">240</div><div class="yl" style="top:67.5px">220</div><div class="yl" style="top:97.5px">200</div><div class="yl" style="top:127.5px">180</div><div class="yl" style="top:157.5px">160</div><div class="yl" style="top:187.5px">140</div><div class="yl" style="top:217.5px">120</div><div class="yl" style="top:247.5px">100</div><div class="yl" style="top:277.5px">80</div><div class="yl" style="top:307.5px">60</div><div class="yl" style="top:337.5px">40</div><div class="yl" style="top:367.5px">20</div><div class="yl" style="top:397.5px">0</div>
<div class="xl" style="left:37.9px">Apr-10</div><div class="xl" style="left:88.0px">Jul-10</div><div class="xl" style="left:139.1px">Oct-10</div><div class="xl" style="left:190.0px">Jan-11</div><div class="xl" style="left:240.0px">Apr-11</div><div class="xl" style="left:291.1px">Jul-11</div><div class="xl" style="left:341.9px">Oct-11</div><div class="xl" style="left:392.8px">Jan-12</div><div class="xl" style="left:442.9px">Apr-12</div><div class="xl" style="left:494.0px">Jul-12</div><div class="xl" style="left:544.9px">Oct-12</div><div class="xl" style="left:596.0px">Jan-13</div><div class="xl" style="left:646.0px">Apr-13</div><div class="xl" style="left:695.9px">Jul-13</div><div class="xl" style="left:747.0px">Oct-13</div><div class="xl" style="left:798.8px">Jan-14</div>
<div class="lgl" style="left:141px;width:28px;background:#1e8a52"></div><div class="lg" style="left:171px;letter-spacing:0.03px">Codexis CDXS</div>
<div class="lgl" style="left:271px;width:28px;background:#b14f4e"></div><div class="lg" style="left:301px;letter-spacing:0.47px">Nasdaq Biotechnology Index NBI</div>
<div class="lgl" style="left:505px;width:27px;background:#e4985a"></div><div class="lg" style="left:534px;letter-spacing:0.49px">Nasdaq Composite Index IXIC</div>
</body></html>
